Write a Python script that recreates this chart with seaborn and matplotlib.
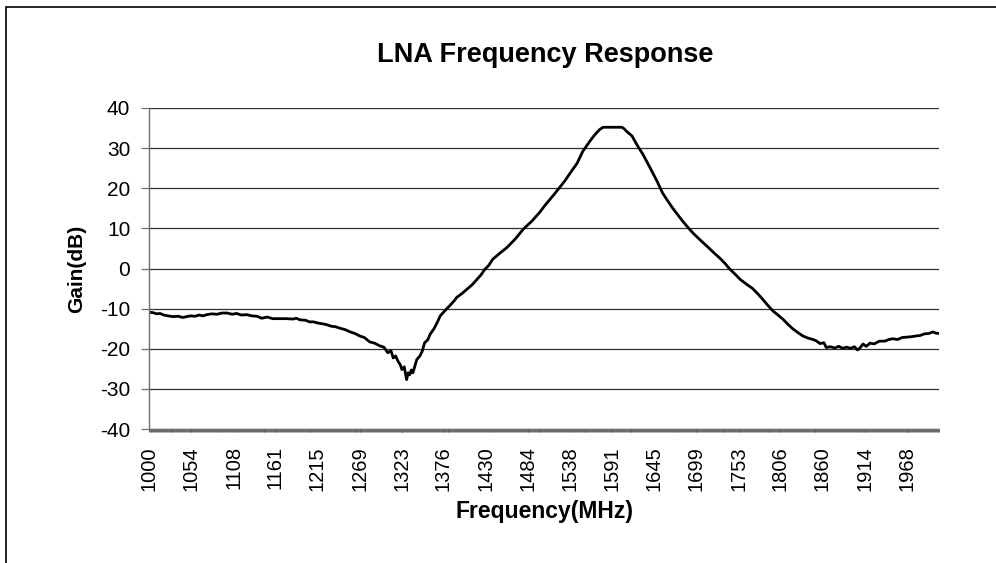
import matplotlib
matplotlib.use('Agg')
import matplotlib.pyplot as plt
from matplotlib.patches import Rectangle
from matplotlib.ticker import MultipleLocator
import seaborn as sns
import pandas as pd

# 판독한 측정값 (MHz, dB)
freq_mhz = [1000, 1005, 1010, 1014, 1019, 1024, 1031, 1037, 1043, 1048,
            1053, 1059, 1064, 1069, 1074, 1080, 1087, 1093, 1100, 1106,
            1112, 1118, 1125, 1131, 1138, 1144, 1151, 1158, 1167, 1175,
            1184, 1188, 1193, 1200, 1205, 1210, 1216, 1222, 1227, 1233,
            1238, 1244, 1250, 1257, 1263, 1269, 1275, 1282, 1288, 1295,
            1300, 1305, 1309, 1312, 1315, 1318, 1321, 1323, 1326, 1329,
            1331, 1333, 1335, 1337, 1340, 1342, 1346, 1349, 1352, 1356,
            1359, 1364, 1368, 1372, 1378, 1384, 1390, 1393, 1400, 1406,
            1413, 1419, 1424, 1429, 1434, 1439, 1448, 1457, 1468, 1478,
            1489, 1499, 1506, 1512, 1518, 1525, 1531, 1538, 1547, 1554,
            1563, 1568, 1572, 1576, 1580, 1604, 1607, 1610, 1617, 1623,
            1631, 1640, 1649, 1656, 1662, 1669, 1676, 1682, 1689, 1695,
            1704, 1713, 1721, 1729, 1736, 1742, 1748, 1755, 1763, 1771,
            1778, 1784, 1790, 1797, 1804, 1810, 1816, 1822, 1829, 1835,
            1841, 1848, 1852, 1857, 1862, 1865, 1870, 1876, 1881, 1886,
            1891, 1896, 1901, 1905, 1908, 1912, 1916, 1921, 1926, 1933,
            1940, 1945, 1950, 1956, 1962, 1968, 1974, 1980, 1985, 1990,
            1996, 2001, 2005, 2009]
gain_db = [-10.9, -11.0, -11.3, -11.2, -11.6, -11.8, -12.0, -11.9, -12.2, -12.0,
           -11.8, -11.9, -11.6, -11.8, -11.5, -11.3, -11.4, -11.1, -11.1, -11.4,
           -11.2, -11.6, -11.5, -11.8, -11.9, -12.4, -12.1, -12.5, -12.5, -12.5,
           -12.6, -12.4, -12.8, -12.9, -13.3, -13.3, -13.6, -13.8, -14.0, -14.4,
           -14.5, -14.9, -15.2, -15.8, -16.2, -16.8, -17.2, -18.3, -18.6, -19.3,
           -19.6, -21.0, -20.5, -22.3, -21.8, -23.1, -24.0, -25.2, -24.5, -27.7,
           -26.0, -26.5, -25.3, -26.0, -24.0, -22.7, -21.8, -20.6, -18.5, -17.8,
           -16.4, -15.0, -13.5, -11.8, -10.5, -9.3, -8.0, -7.2, -6.2, -5.2,
           -4.0, -2.7, -1.6, -0.2, 0.8, 2.3, 3.8, 5.2, 7.4, 9.8,
           11.8, 14.0, 15.8, 17.2, 18.6, 20.3, 21.8, 23.8, 26.3, 29.2,
           31.7, 33.0, 33.9, 34.7, 35.2, 35.2, 34.8, 34.2, 33.0, 30.9,
           28.4, 25.1, 21.7, 18.8, 17.0, 15.0, 13.2, 11.7, 10.1, 8.8,
           7.1, 5.5, 4.0, 2.6, 1.2, -0.2, -1.3, -2.7, -3.9, -5.0,
           -6.4, -7.7, -9.1, -10.6, -11.7, -12.7, -13.9, -15.0, -16.0, -16.8,
           -17.3, -17.7, -18.0, -18.7, -18.5, -19.7, -19.5, -19.8, -19.4, -19.9,
           -19.6, -19.9, -19.5, -20.3, -19.8, -18.8, -19.4, -18.6, -18.8, -18.1,
           -18.1, -17.7, -17.5, -17.7, -17.2, -17.1, -17.0, -16.8, -16.7, -16.3,
           -16.2, -15.8, -16.1, -16.2]

x_labels = ['1000', '1054', '1108', '1161', '1215', '1269', '1323', '1376', '1430', '1484',
            '1538', '1591', '1645', '1699', '1753', '1806', '1860', '1914', '1968']
y_ticks = [40, 30, 20, 10, 0, -10, -20, -30, -40]

df = pd.DataFrame({'freq': freq_mhz, 'gain': gain_db})

sns.set_style('white')
plt.rcParams['font.family'] = ['Liberation Sans', 'DejaVu Sans']
plt.rcParams['axes.unicode_minus'] = False
plt.rcParams['text.color'] = 'black'
plt.rcParams['axes.labelcolor'] = 'black'
plt.rcParams['xtick.labelcolor'] = 'black'
plt.rcParams['ytick.labelcolor'] = 'black'

fig = plt.figure(figsize=(9.96, 5.63), dpi=100)
ax = fig.add_axes([149/996, 1-429/563, 790/996, 321/563])

sns.lineplot(data=df, x='freq', y='gain', color='black', linewidth=2.0, ax=ax)

ax.set_xlim(1000, 2009)
ax.set_ylim(-40, 40)
ax.set_yticks(y_ticks)
ax.set_xticks([int(l) for l in x_labels])
ax.set_xticklabels(x_labels, rotation=90)
ax.xaxis.set_minor_locator(MultipleLocator(1.25))

ax.yaxis.grid(True, color='#303030', linewidth=0.9)
ax.xaxis.grid(False)
for s in ['top', 'right']:
    ax.spines[s].set_visible(False)
for s in ['left', 'bottom']:
    ax.spines[s].set_color('#707070')
    ax.spines[s].set_linewidth(1.0)

ax.tick_params(axis='y', which='major', direction='out', length=5.5, width=0.9,
               color='#707070', labelcolor='black', labelsize=15, pad=8, left=True)
ax.tick_params(axis='x', which='both', direction='out', length=2.5, width=0.6,
               color='#505050', labelcolor='black', bottom=True)
ax.tick_params(axis='x', which='major', labelsize=14.5, pad=10)

ax.set_xlabel('Frequency(MHz)', fontsize=16.5, fontweight='bold', labelpad=6, color='black')
ax.set_ylabel('Gain(dB)', fontsize=15, fontweight='bold', labelpad=10, color='black')
fig.text(545/996, 1-55/563, 'LNA Frequency Response', fontsize=19.5, fontweight='bold',
         ha='center', va='center', color='black')

# 차트 테두리 (오른쪽/아래는 잘림)
fig.patches.append(Rectangle((6/996, -1), 5, 1 - 6.5/563 + 1, transform=fig.transFigure,
                             fill=False, edgecolor='black', linewidth=1.2))

fig.savefig('out.png', dpi=100)
